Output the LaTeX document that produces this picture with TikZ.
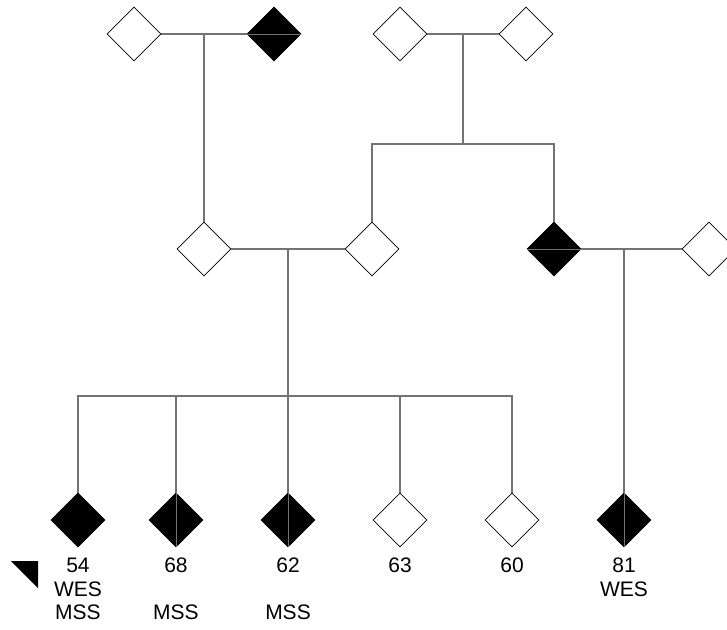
\documentclass[tikz,border=0pt]{standalone}
\usepackage{fontspec}
\setmainfont{Liberation Sans}
\usetikzlibrary{shapes.geometric,positioning}

\begin{document}
\begin{tikzpicture}[x=1pt, y=-1pt,
  person/.style={
    diamond,
    draw,
    inner sep=0pt,
    minimum width=54pt,
    minimum height=54pt,
    line width=0.8pt,
  },
  affected/.style={person, fill=black},
  link/.style={draw=black!55, line width=1.2pt},
  inlink/.style={draw=black!55, line width=0.8pt},
  info/.style={rectangle, inner sep=0pt, align=center, anchor=north,
    font=\fontsize{21}{23.5}\selectfont},
  node distance=112pt]

  \useasboundingbox (0,0) rectangle (727,629);

  % first generation
  \node[person] (gp1) at (134,34) {};
  \node[affected] (gp2) at (274,34) {};
  \node[person] (gp3) at (400,34) {};
  \node[person] (gp4) at (526,34) {};

  % second generation
  \node[person] (p1) at (204,249) {};
  \node[person] (p2) at (372,249) {};
  \node[affected] (p3) at (554,249) {};
  \node[person] (p4) at (709,249) {};

  % third generation
  \node[affected] (c1) at (78,520) {};
  \node[affected, right of=c1, node distance=98pt] (c2) {};
  \node[affected, right of=c2] (c3) {};
  \node[person, right of=c3] (c4) {};
  \node[person, right of=c4] (c5) {};
  \node[affected, right of=c5] (c6) {};

  \coordinate (m1) at (p1 |- gp1);
  \coordinate (m2) at (463,34);
  \coordinate (s2) at (463,144);
  \coordinate (m3) at (c3 |- p1);
  \coordinate (s3) at (288,396);
  \coordinate (m4) at (c6 |- p3);

  \draw[link] (gp1) -- (gp2);
  \draw[link] (m1) -- (p1);
  \draw[link] (gp3) -- (gp4);
  \draw[link] (m2) -- (s2);
  \foreach \c in {p2,p3}
    \draw[link] (\c) |- (s2);

  \draw[link] (p1) -- (p2);
  \draw[link] (m3) -- (s3);
  \foreach \c in {c1,c2,c3,c4,c5}
    \draw[link] (\c) |- (s3);
  \draw[link] (p3) -- (p4);
  \draw[link] (m4) -- (c6);

  % lines seen through the filled ones
  \draw[inlink] (gp2.west) -- (gp2.east);
  \draw[inlink] (p3.west) -- (p3.east);
  \foreach \c in {c2,c3,c6}
    \draw[inlink] (\c.north) -- (\c.south);

  \node[info, below=10.5pt of c1] (l1) {54\\WES\\MSS};
  \node[info, below=10.5pt of c2] (l2) {68\\~\\MSS};
  \node[info, below=10.5pt of c3] (l3) {62\\~\\MSS};
  \node[info, below=10.5pt of c4] (l4) {63};
  \node[info, below=10.5pt of c5] (l5) {60};
  \node[info, below=10.5pt of c6] (l6) {81\\WES};

  \fill (11,561) -- (38,561) -- (38,588) -- cycle;

\end{tikzpicture}
\end{document}
